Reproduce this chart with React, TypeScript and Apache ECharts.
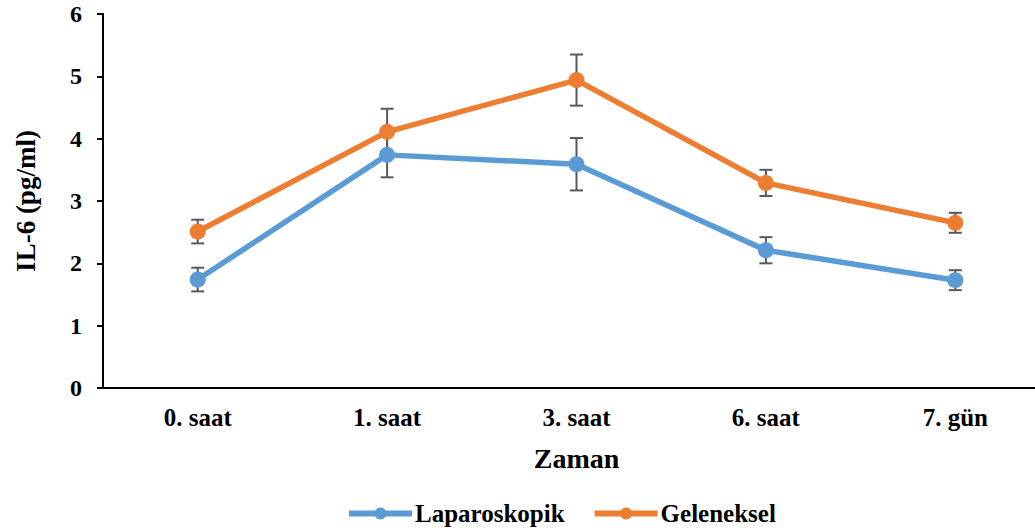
import React, { useEffect, useRef } from "react";
import * as echarts from "echarts";

const categories = ["0. saat", "1. saat", "3. saat", "6. saat", "7. gün"];
const laparoskopik = [1.74, 3.74, 3.59, 2.21, 1.73];
const laparoskopikErr = [0.19, 0.36, 0.42, 0.21, 0.16];
const geleneksel = [2.51, 4.11, 4.94, 3.29, 2.65];
const gelenekselErr = [0.19, 0.37, 0.41, 0.21, 0.16];
const yTicks = [0, 1, 2, 3, 4, 5, 6];

const FONT = "'Liberation Serif', 'Times New Roman', serif";
const BLUE = "#5B9BD5";
const ORANGE = "#ED7D31";
const ERR = "#595959";

function errSeries(name: string, vals: number[], errs: number[]) {
  return {
    type: "custom",
    name: name + "_err",
    z: 1,
    silent: true,
    data: vals.map((v, i) => [i, v - errs[i], v + errs[i]]),
    renderItem: (params: any, api: any) => {
      const x = api.value(0);
      const lo = api.coord([x, api.value(1)]);
      const hi = api.coord([x, api.value(2)]);
      const hw = 6.5;
      const style = { stroke: ERR, lineWidth: 2 };
      return {
        type: "group",
        children: [
          { type: "line", shape: { x1: lo[0], y1: lo[1], x2: hi[0], y2: hi[1] }, style },
          { type: "line", shape: { x1: lo[0] - hw, y1: lo[1], x2: lo[0] + hw, y2: lo[1] }, style },
          { type: "line", shape: { x1: hi[0] - hw, y1: hi[1], x2: hi[0] + hw, y2: hi[1] }, style },
        ],
      };
    },
  };
}

export default function App() {
  const ref = useRef<HTMLDivElement>(null);
  useEffect(() => {
    if (!ref.current) return;
    const chart = echarts.init(ref.current, null, { renderer: "svg" });
    chart.setOption({
      animation: false,
      backgroundColor: "#ffffff",
      textStyle: { fontFamily: FONT },
      grid: { left: 103, right: 0, top: 14, bottom: 142 },
      legend: {
        data: ["Laparoskopik", "Geleneksel"],
        top: 496,
        left: 341,
        itemWidth: 63,
        itemHeight: 15,
        itemGap: 27,
        lineStyle: { width: 6 },
        textStyle: { fontFamily: FONT, fontSize: 25, fontWeight: "bold", color: "#000", padding: [0, 0, 0, -2] },
      },
      xAxis: {
        type: "category",
        data: categories,
        boundaryGap: true,
        name: "Zaman",
        nameLocation: "middle",
        nameGap: 56,
        nameTextStyle: { fontFamily: FONT, fontSize: 28, fontWeight: "bold", color: "#000" },
        axisLine: { lineStyle: { color: "#000", width: 2 } },
        axisTick: { show: false },
        axisLabel: { fontFamily: FONT, fontSize: 25, fontWeight: "bold", color: "#000", margin: 17 },
      },
      yAxis: {
        type: "value",
        min: yTicks[0],
        max: yTicks[yTicks.length - 1],
        interval: 1,
        name: "IL-6 (pg/ml)",
        nameLocation: "middle",
        nameGap: 64,
        nameTextStyle: { fontFamily: FONT, fontSize: 27, fontWeight: "bold", color: "#000" },
        splitLine: { show: false },
        axisLine: { show: true, lineStyle: { color: "#000", width: 2 } },
        axisTick: { show: true, inside: false, length: 6, lineStyle: { color: "#000", width: 2 } },
        axisLabel: { fontFamily: FONT, fontSize: 24, fontWeight: "bold", color: "#000", margin: 21 },
      },
      series: [
        errSeries("Laparoskopik", laparoskopik, laparoskopikErr),
        errSeries("Geleneksel", geleneksel, gelenekselErr),
        {
          name: "Laparoskopik",
          type: "line",
          z: 2,
          data: laparoskopik,
          symbol: "circle",
          symbolSize: 16,
          itemStyle: { color: BLUE },
          lineStyle: { color: BLUE, width: 5.5 },
        },
        {
          name: "Geleneksel",
          type: "line",
          z: 2,
          data: geleneksel,
          symbol: "circle",
          symbolSize: 16,
          itemStyle: { color: ORANGE },
          lineStyle: { color: ORANGE, width: 5.5 },
        },
      ],
    });
    return () => chart.dispose();
  }, []);
  return (
    <div
      style={{ position: "fixed", left: 0, top: 0, width: 1035, height: 530, overflow: "hidden", background: "#fff" }}
    >
      <div ref={ref} style={{ width: 1050, height: 530 }} />
    </div>
  );
}
